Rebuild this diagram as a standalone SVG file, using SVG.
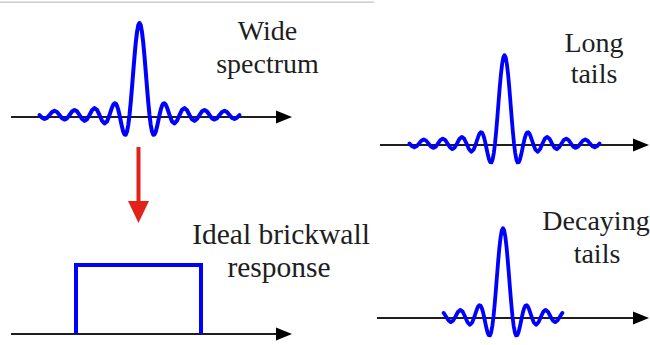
<svg xmlns="http://www.w3.org/2000/svg" xmlns:xlink="http://www.w3.org/1999/xlink" width="650" height="345" viewBox="0 0 650 345">
<style>
.lbl{font-family:"Liberation Serif","Times New Roman",serif;font-size:28px;fill:#1e1e1e;text-anchor:middle}
.big{font-size:29.5px}
.axis{stroke:#1e1e1e;stroke-width:2;fill:none}
.head{fill:#000}
.wave{fill:none;stroke:#0000ff;stroke-width:4;stroke-linejoin:round;stroke-linecap:round}
</style>
<defs>
<path id="sinc" class="wave" d="M-100,0 L-97.5,2.7 -95,3.9 -92.5,2.8 -90,0 -87.5,-2.9 -85,-4.2 -82.5,-3 -80,0 -77.5,3.2 -75,4.6 -72.5,3.4 -70,0 -67.5,-3.5 -65,-5.1 -62.5,-3.7 -60,0 -57.5,4 -55,5.9 -52.5,4.3 -50,0 -47.5,-4.7 -45,-6.9 -42.5,-5.1 -40,0 -37.5,5.7 -35,8.5 -32.5,6.4 -30,0 -28.75,-3.9 -27.5,-7.5 -26.25,-10.3 -25,-11.7 -23.75,-11.4 -22.5,-9.2 -21.25,-5.3 -20,0 -18.75,6 -17.5,11.8 -16.25,16.7 -15,19.5 -13.75,19.7 -12.5,16.6 -11.25,10 -10,0 -8.75,-12.8 -7.5,-27.6 -6.25,-43.3 -5,-58.6 -3.75,-72.2 -2.5,-82.8 -1.25,-89.7 0,-92 1.25,-89.7 2.5,-82.8 3.75,-72.2 5,-58.6 6.25,-43.3 7.5,-27.6 8.75,-12.8 10,0 11.25,10 12.5,16.6 13.75,19.7 15,19.5 16.25,16.7 17.5,11.8 18.75,6 20,0 21.25,-5.3 22.5,-9.2 23.75,-11.4 25,-11.7 26.25,-10.3 27.5,-7.5 28.75,-3.9 30,0 32.5,6.4 35,8.5 37.5,5.7 40,0 42.5,-5.1 45,-6.9 47.5,-4.7 50,0 52.5,4.3 55,5.9 57.5,4 60,0 62.5,-3.7 65,-5.1 67.5,-3.5 70,0 72.5,3.4 75,4.6 77.5,3.2 80,0 82.5,-3 85,-4.2 87.5,-2.9 90,0 92.5,2.8 95,3.9 97.5,2.7 100,0"/>
<path id="sincShort" class="wave" d="M-62.5,-3.7 L-60,0 -57.5,4 -55,5.9 -52.5,4.3 -50,0 -47.5,-4.7 -45,-6.9 -42.5,-5.1 -40,0 -37.5,5.7 -35,8.5 -32.5,6.4 -30,0 -28.75,-3.9 -27.5,-7.5 -26.25,-10.3 -25,-11.7 -23.75,-11.4 -22.5,-9.2 -21.25,-5.3 -20,0 -18.75,6 -17.5,11.8 -16.25,16.7 -15,19.5 -13.75,19.7 -12.5,16.6 -11.25,10 -10,0 -8.75,-12.8 -7.5,-27.6 -6.25,-43.3 -5,-58.6 -3.75,-72.2 -2.5,-82.8 -1.25,-89.7 0,-92 1.25,-89.7 2.5,-82.8 3.75,-72.2 5,-58.6 6.25,-43.3 7.5,-27.6 8.75,-12.8 10,0 11.25,10 12.5,16.6 13.75,19.7 15,19.5 16.25,16.7 17.5,11.8 18.75,6 20,0 21.25,-5.3 22.5,-9.2 23.75,-11.4 25,-11.7 26.25,-10.3 27.5,-7.5 28.75,-3.9 30,0 32.5,6.4 35,8.5 37.5,5.7 40,0 42.5,-5.1 45,-6.9 47.5,-4.7 50,0 52.5,4.3 55,5.9 57.5,4 60,0 62.5,-3.7"/>
</defs>
<rect x="0" y="1.5" width="374" height="1.3" fill="#c4c4c4"/>

<g id="wide-spectrum">
<line class="axis" x1="11" y1="117" x2="279" y2="117"/>
<polygon class="head" points="276,110.5 292,117 276,123.5"/>
<use xlink:href="#sinc" transform="translate(139.5,115)"/>
<text class="lbl" x="267.5" y="40">Wide</text>
<text class="lbl" x="267.5" y="73">spectrum</text>
</g>

<g id="brickwall">
<line class="axis" x1="11" y1="334" x2="279" y2="334"/>
<polygon class="head" points="276,327.5 292,334 276,340.5"/>
<path d="M76,334 V265 H201 V334" fill="none" stroke="#0000ff" stroke-width="4"/>
<text class="lbl big" x="281" y="244">Ideal brickwall</text>
<text class="lbl big" x="279" y="277">response</text>
</g>

<g id="long-tails">
<line class="axis" x1="380" y1="145" x2="636" y2="145"/>
<polygon class="head" points="633,138.5 649,145 633,151.5"/>
<use xlink:href="#sinc" transform="translate(504.5,143.5) scale(0.95,0.96)"/>
<text class="lbl" x="594" y="52">Long</text>
<text class="lbl" x="594" y="83">tails</text>
</g>

<g id="decaying-tails">
<line class="axis" x1="377" y1="318" x2="636" y2="318"/>
<polygon class="head" points="633,311.5 649,318 633,324.5"/>
<use xlink:href="#sincShort" transform="translate(503,316.5) scale(0.95,0.96)"/>
<text class="lbl" x="596" y="230">Decaying</text>
<text class="lbl" x="597" y="263">tails</text>
</g>

<g id="connectors">
<line x1="138.5" y1="147" x2="138.5" y2="204" stroke="#e2231a" stroke-width="4"/>
<polygon points="128,201 149,201 138.5,223" fill="#e2231a"/>
</g>
</svg>
